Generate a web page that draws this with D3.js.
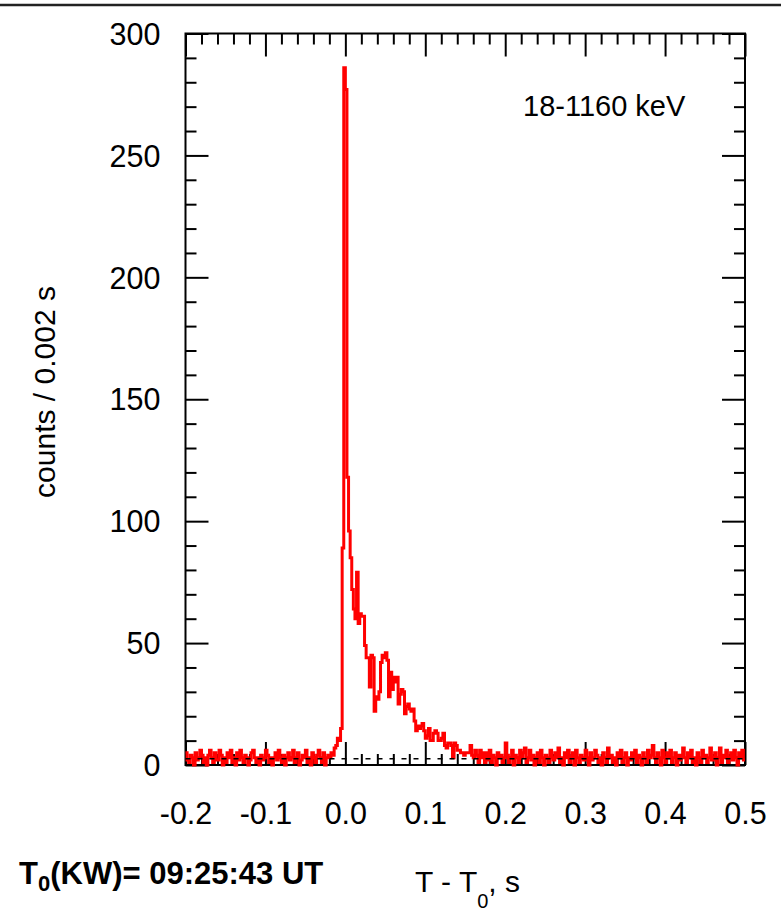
<!DOCTYPE html>
<html><head><meta charset="utf-8">
<script src="https://cdn.jsdelivr.net/npm/d3@7/dist/d3.min.js"></script>
<style>body{margin:0;background:#fff} svg{display:block}</style>
</head><body><svg id="c" width="782" height="915"></svg>
<script>
// ---- data ----
const binStart = -0.2, binWidth = 0.002, tEnd = 0.5;
// counts per 0.002 s bin (bin k starts at -0.2 + 0.002*k)
const countsPre = [
  5,2,1,4,3,0,5,2,3,6,
  4,1,3,0,4,6,3,1,5,2,
  2,6,4,0,3,1,5,3,6,1,
  3,0,5,2,6,3,1,4,3,0,
  2,5,6,3,1,3,0,4,2,3,
  6,4,1,3,0,3,5,2,6,3,
  1,4,0,3,5,2,3,6,1,3,
  5,0,2,4,3,6,1,3,0,5,
  3,1,4,6,3,1,5,0,3,4
];
const countsBurst = [
  3,5,4,7,8,11,10,15,89,286,
  277,118,96,85,72,64,60,79,58,62,
  61,61,49,44,44,32,45,44,22,28,
  27,30,42,45,44,46,43,28,38,31,
  36,34,36,25,29,31,30,21,24,25,
  23,22,23,18,14,16,15,16,17,14,
  11,12,15,10,10,13,14,13,10,10,
  11,13,8,7,9,9,8,3,9,8,
  6,6,5,5,4,5,5,5,8,4
];
const countsPost = [
  3,6,4,1,6,3,5,1,5,2,
  6,1,4,3,0,5,3,4,1,3,
  9,4,1,3,6,0,4,3,1,6,
  3,5,7,1,3,6,2,4,0,3,
  5,1,6,3,0,4,3,1,6,3,
  2,5,3,7,1,3,0,5,3,6,
  1,3,5,0,6,3,1,4,3,2,
  6,3,0,5,2,3,6,4,1,3,
  0,5,3,1,7,3,4,1,3,0,
  5,3,6,1,3,5,0,3,2,5,
  3,6,1,4,3,0,5,3,1,6,
  3,4,8,3,1,5,3,0,6,3,
  1,5,3,6,1,3,5,0,4,2,
  4,7,3,1,5,3,6,1,3,0,
  5,3,1,6,3,4,1,3,7,2,
  3,5,0,3,7,1,4,3,6,1,
  3,5,2,6,3,0,5,3,6,2
];
const backgroundLevel = 2.6;
const xTicks = [-0.2,-0.1,0.0,0.1,0.2,0.3,0.4,0.5];
const xTickLabels = ["-0.2","-0.1","0.0","0.1","0.2","0.3","0.4","0.5"];
const yTicks = [0,50,100,150,200,250,300];
const yTickLabels = ["0","50","100","150","200","250","300"];
const xMinorStep = 0.02, yMinorStep = 10;
const energyLabel = "18-1160 keV";
const yTitle = "counts / 0.002 s";

// ---- build ----
const counts = countsPre.concat(countsBurst, countsPost);
const pts = counts.map((c,k)=>({t: binStart + binWidth*k, c}));
pts.push({t: tEnd, c: counts[counts.length-1]});

const svg = d3.select("#c");
const L=185.5, R=745, T=33.5, B=765;
const x = d3.scaleLinear().domain([-0.2,0.5]).range([L,R]);
const y = d3.scaleLinear().domain([0,300]).range([B,T]);
const font = "'Liberation Sans', Arial, sans-serif";

// top rule
svg.append("line").attr("x1",0).attr("x2",781).attr("y1",5).attr("y2",5)
  .attr("stroke","#222").attr("stroke-width",2.5);

const xMinor = d3.range(-0.2, 0.5001, xMinorStep).filter(v=>!xTicks.some(m=>Math.abs(m-v)<1e-6));
const yMinor = d3.range(0, 300.01, yMinorStep).filter(v=>v%50!==0);

function styleAxis(g){
  g.select(".domain").remove();
  g.selectAll(".tick line").attr("stroke","#000").attr("stroke-width",2);
}
const MAJ=23, MIN=11;
// bottom
svg.append("g").attr("transform",`translate(0,${B})`)
  .call(d3.axisBottom(x).tickValues(xTicks).tickSize(-MAJ).tickSizeOuter(0).tickFormat((d,i)=>xTickLabels[i]))
  .call(styleAxis)
  .call(g=>g.selectAll("text").attr("font-family",font).attr("font-size",30.5).attr("fill","#000").attr("y",37).attr("dy","0.72em"));
svg.append("g").attr("transform",`translate(0,${B})`)
  .call(d3.axisBottom(x).tickValues(xMinor).tickSize(-MIN).tickSizeOuter(0).tickFormat(""))
  .call(styleAxis);
// top
svg.append("g").attr("transform",`translate(0,${T})`)
  .call(d3.axisTop(x).tickValues(xTicks).tickSize(-MAJ).tickSizeOuter(0).tickFormat(""))
  .call(styleAxis);
svg.append("g").attr("transform",`translate(0,${T})`)
  .call(d3.axisTop(x).tickValues(xMinor).tickSize(-MIN).tickSizeOuter(0).tickFormat(""))
  .call(styleAxis);
// left
svg.append("g").attr("transform",`translate(${L},0)`)
  .call(d3.axisLeft(y).tickValues(yTicks).tickSize(-MAJ).tickSizeOuter(0).tickFormat((d,i)=>yTickLabels[i]))
  .call(styleAxis)
  .call(g=>g.selectAll("text").attr("font-family",font).attr("font-size",30.5).attr("fill","#000").attr("x",-25).attr("dy","0.35em"));
svg.append("g").attr("transform",`translate(${L},0)`)
  .call(d3.axisLeft(y).tickValues(yMinor).tickSize(-MIN).tickSizeOuter(0).tickFormat(""))
  .call(styleAxis);
// right
svg.append("g").attr("transform",`translate(${R},0)`)
  .call(d3.axisRight(y).tickValues(yTicks).tickSize(-MAJ).tickSizeOuter(0).tickFormat(""))
  .call(styleAxis);
svg.append("g").attr("transform",`translate(${R},0)`)
  .call(d3.axisRight(y).tickValues(yMinor).tickSize(-MIN).tickSizeOuter(0).tickFormat(""))
  .call(styleAxis);

// frame
svg.append("rect").attr("x",L).attr("y",T).attr("width",R-L).attr("height",B-T)
  .attr("fill","none").attr("stroke","#000").attr("stroke-width",2);

// light curve
const line = d3.line().x(d=>x(d.t)).y(d=>y(d.c)).curve(d3.curveStepAfter);
svg.append("path").datum(pts).attr("d",line).attr("fill","none")
  .attr("stroke","#ff0000").attr("stroke-width",3).attr("stroke-linejoin","miter");

// background level
svg.append("line").attr("x1",x(-0.2)).attr("x2",x(0.5)).attr("y1",y(backgroundLevel)).attr("y2",y(backgroundLevel))
  .attr("stroke","#000").attr("stroke-width",1.5).attr("stroke-dasharray","5,7");

// texts
svg.append("text").attr("x",523).attr("y",116).attr("font-family",font).attr("font-size",29).text(energyLabel);
svg.append("text").attr("transform","translate(55,392) rotate(-90)").attr("text-anchor","middle")
  .attr("font-family",font).attr("font-size",30).text(yTitle);

const t0 = svg.append("text").attr("x",19).attr("y",884).attr("font-family",font).attr("font-size",31).attr("font-weight","bold");
t0.append("tspan").text("T");
t0.append("tspan").attr("font-size",22).attr("dy",7).text("0");
t0.append("tspan").attr("dy",-7).text("(KW)= 09:25:43 UT");

const xl = svg.append("text").attr("x",415).attr("y",892).attr("font-family",font).attr("font-size",30);
xl.append("tspan").text("T - T");
xl.append("tspan").attr("font-size",20).attr("dy",16).text("0");
xl.append("tspan").attr("dy",-16).text(", s");
</script>
</body></html>
